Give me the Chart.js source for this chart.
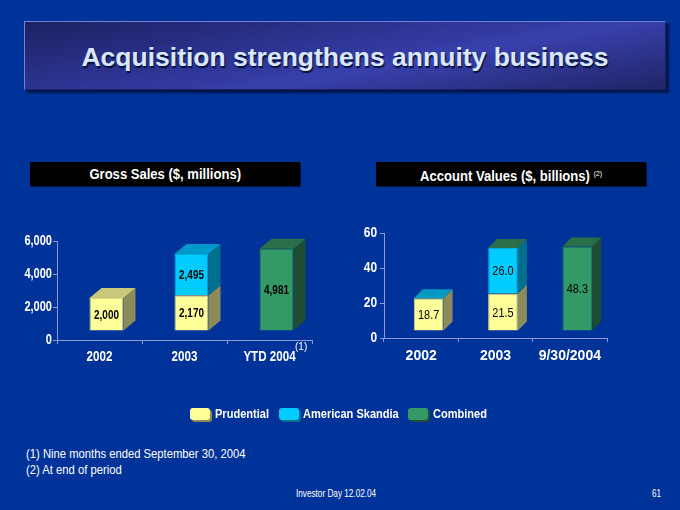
<!DOCTYPE html>
<html>
<head>
<meta charset="utf-8">
<script src="https://cdn.jsdelivr.net/npm/chart.js@4.4.1/dist/chart.umd.min.js"></script>
<style>
  html, body { margin: 0; padding: 0; }
  body {
    width: 680px; height: 510px; position: relative; overflow: hidden;
    background: #003399; color: #fff;
    font-family: "Liberation Sans", Arial, sans-serif;
  }
  .sq { display: inline-block; transform-origin: left center; white-space: nowrap; }
  #title {
    position: absolute; left: 24px; top: 21px; width: 640px; height: 67px;
    border: 1px solid #6f80d6; border-right-color: #1c2260; border-bottom-color: #1c2260;
    background: linear-gradient(170deg, #1c2262 0%, #2f379a 45%, #3840ac 60%, #1f2566 100%);
    box-shadow: 3px 3px 2px rgba(0,0,30,0.6);
    text-align: center; line-height: 70px;
    font-size: 26.5px; font-weight: bold; color: #d9e8ff;
    text-shadow: 1px 2px 1px #0a0f3a;
  }
  .hdr {
    position: absolute; top: 162px; height: 24px; line-height: 24px;
    background: #000; text-align: center;
    font-size: 14.5px; font-weight: bold; color: #fff;
    box-shadow: 1px 1px 1px rgba(0,0,0,0.5);
  }
  .hdr .sq { transform: scaleX(0.9); transform-origin: center center; }
  .hdr sup { font-size: 8px; vertical-align: 5px; font-weight: normal; }
  #hdrL { left: 30px; width: 270px; }
  #hdrR { left: 376px; width: 270px; }
  #wrapL { position: absolute; left: 0; top: 220px; width: 340px; height: 160px; }
  #wrapR { position: absolute; left: 340px; top: 210px; width: 340px; height: 170px; }
  #note1 { position: absolute; left: 295px; top: 341px; font-size: 10px; }
  #legend { position: absolute; top: 406px; left: 190px; height: 16px; font-size: 12px; font-weight: bold; }
  #legend span.item { position: absolute; top: 0; white-space: nowrap; line-height: 16px; }
  #legend span.item span { display: inline-block; transform: scaleX(0.92); transform-origin: left center; }
  #legend i {
    position: absolute; top: 2px; width: 20px; height: 12px; border-radius: 3px;
  }
  .foot { position: absolute; font-size: 12.5px; }
  .foot .sq { transform: scaleX(0.9); }
  .small { position: absolute; top: 487px; font-size: 10.5px; }
  .small .sq { transform: scaleX(0.78); }
</style>
</head>
<body>
<div id="title">Acquisition strengthens annuity business</div>
<div class="hdr" id="hdrL"><span class="sq">Gross Sales ($, millions)</span></div>
<div class="hdr" id="hdrR"><span class="sq">Account Values ($, billions) <sup>(2)</sup></span></div>

<div id="wrapL"><canvas id="salesChart"></canvas></div>
<div id="wrapR"><canvas id="valuesChart"></canvas></div>
<span id="note1">(1)</span>

<div id="legend">
  <span class="item" style="left:0"><i style="left:0;background:#ffff99;box-shadow:2px 2px 0 #8c8c5a"></i><span style="margin-left:25px">Prudential</span></span>
  <span class="item" style="left:89px"><i style="left:0;background:#00ccff;box-shadow:2px 2px 0 #00708c"></i><span style="margin-left:24px">American Skandia</span></span>
  <span class="item" style="left:218px"><i style="left:0;background:#339966;box-shadow:2px 2px 0 #1e4d33"></i><span style="margin-left:25px">Combined</span></span>
</div>

<div class="foot" style="left:26px;top:447px"><span class="sq">(1) Nine months ended September 30, 2004</span></div>
<div class="foot" style="left:26px;top:463px"><span class="sq">(2) At end of period</span></div>
<div class="small" style="left:296px"><span class="sq">Investor Day 12.02.04</span></div>
<div class="small" style="left:652px"><span class="sq">61</span></div>

<script>
// ---- data ----
const salesCategories = ['2002', '2003', 'YTD 2004'];
const salesPrudential = [2000, 2170, null];
const salesSkandia    = [null, 2495, null];
const salesCombined   = [null, null, 4981];
const salesTicks      = [0, 2000, 4000, 6000];

const valueCategories = ['2002', '2003', '9/30/2004'];
const valuePrudential = [18.7, 21.5, null];
const valueSkandia    = [null, 26.0, null];
const valueCombined   = [null, null, 48.3];
const valueTicks      = [0, 20, 40, 60];

const FONT = '"Liberation Sans", Arial, sans-serif';
const AXIS = '#8a9bd4';

// text squeezed horizontally, the slide used a narrow face
function drawSqueezed(ctx, text, x, y, sx, align) {
  ctx.save();
  ctx.translate(x, y);
  ctx.scale(sx, 1);
  ctx.textAlign = align;
  ctx.fillText(text, 0, 0);
  ctx.restore();
}

// draws the fake 3d side/top faces and the value labels
const cube3d = {
  id: 'cube3d',
  beforeDatasetsDraw(chart, args, opts) {
    chart.ctx.save();
    chart.ctx.translate(opts.shiftX, opts.shiftY);
  },
  afterDatasetsDraw(chart, args, opts) {
    const ctx = chart.ctx;
    const dx = opts.depthX, dy = opts.depthY;
    chart.data.datasets.forEach((ds, di) => {
      const meta = chart.getDatasetMeta(di);
      meta.data.forEach((bar, i) => {
        if (ds.data[i] == null) return;
        const p = bar.getProps(['x', 'y', 'base', 'width'], true);
        const l = p.x - p.width / 2, r = p.x + p.width / 2;
        // right face
        ctx.fillStyle = ds.sideColor;
        ctx.beginPath();
        ctx.moveTo(r, p.y);
        ctx.lineTo(r + dx, p.y - dy);
        ctx.lineTo(r + dx, p.base - dy);
        ctx.lineTo(r, p.base);
        ctx.closePath();
        ctx.fill();
        // top face only on the top of the stack
        const above = chart.data.datasets.slice(di + 1).some(d => d.data[i] != null);
        if (!above) {
          ctx.fillStyle = opts.topColors[i];
          ctx.beginPath();
          ctx.moveTo(l, p.y);
          ctx.lineTo(l + dx, p.y - dy);
          ctx.lineTo(r + dx, p.y - dy);
          ctx.lineTo(r, p.y);
          ctx.closePath();
          ctx.fill();
        }
      });
    });
    // value labels
    ctx.fillStyle = '#000';
    ctx.font = opts.labelFont;
    ctx.textBaseline = 'middle';
    chart.data.datasets.forEach((ds, di) => {
      chart.getDatasetMeta(di).data.forEach((bar, i) => {
        const v = ds.data[i];
        if (v == null) return;
        const p = bar.getProps(['x', 'y', 'base'], true);
        drawSqueezed(ctx, opts.format(v), p.x, (p.y + p.base) / 2 + 1, opts.labelScaleX, 'center');
      });
    });
    ctx.restore();
  }
};

// tick labels, placed from the chart's own scales
const squeezedTicks = {
  id: 'squeezedTicks',
  afterDraw(chart, args, o) {
    const ctx = chart.ctx, xs = chart.scales.x, ys = chart.scales.y;
    ctx.save();
    ctx.fillStyle = '#fff';
    ctx.textBaseline = 'middle';
    ctx.font = o.yFont;
    ys.ticks.forEach(t => {
      drawSqueezed(ctx, t.value.toLocaleString('en-US'), ys.right - o.yGap, ys.getPixelForValue(t.value), o.yScaleX, 'right');
    });
    ctx.font = o.xFont;
    chart.data.labels.forEach((lab, i) => {
      drawSqueezed(ctx, lab, xs.getPixelForValue(i), xs.top + o.xGap, o.xScaleX, 'center');
    });
    ctx.restore();
  }
};

function makeChart(id, labels, prud, skan, comb, ticks, cfg) {
  return new Chart(document.getElementById(id), {
    type: 'bar',
    data: {
      labels: labels,
      datasets: [
        { label: 'Prudential', data: prud, backgroundColor: '#ffff99', borderColor: '#d6d67c', borderWidth: 1, sideColor: '#8c8c5a' },
        { label: 'American Skandia', data: skan, backgroundColor: '#00ccff', borderColor: '#00a8d4', borderWidth: 1, sideColor: '#00708c' },
        { label: 'Combined', data: comb, backgroundColor: '#339966', borderColor: '#2a7f55', borderWidth: 1, sideColor: '#1e4d33' }
      ]
    },
    options: {
      responsive: true,
      maintainAspectRatio: false,
      animation: false,
      barPercentage: 0.4,
      categoryPercentage: 1,
      layout: { padding: cfg.padding },
      plugins: {
        legend: { display: false },
        tooltip: { enabled: false },
        cube3d: {
          shiftX: cfg.shiftX, shiftY: cfg.shiftY,
          depthX: cfg.depthX, depthY: cfg.depthY,
          topColors: cfg.topColors,
          labelFont: cfg.labelFont,
          labelScaleX: cfg.labelScaleX,
          format: cfg.format
        },
        squeezedTicks: cfg.ticks
      },
      scales: {
        x: {
          stacked: true,
          border: { color: AXIS, width: 1 },
          grid: { offset: true, drawOnChartArea: false, tickLength: 4, color: AXIS },
          ticks: { display: false },
          afterFit(scale) { scale.height = cfg.xHeight; }
        },
        y: {
          stacked: true,
          min: ticks[0],
          max: ticks[ticks.length - 1],
          afterBuildTicks(scale) { scale.ticks = ticks.map(v => ({ value: v })); },
          border: { color: AXIS, width: 1 },
          grid: { drawOnChartArea: false, tickLength: 4, color: AXIS },
          ticks: { display: false },
          afterFit(scale) { scale.width = cfg.yWidth; }
        }
      }
    },
    plugins: [cube3d, squeezedTicks]
  });
}

makeChart('salesChart', salesCategories, salesPrudential, salesSkandia, salesCombined, salesTicks, {
  padding: { left: 0, top: 21, right: 28, bottom: 0 },
  yWidth: 57, xHeight: 40,
  ticks: { yFont: 'bold 14.5px ' + FONT, yScaleX: 0.76, yGap: 5, xFont: 'bold 14.5px ' + FONT, xScaleX: 0.8, xGap: 17 },
  shiftX: 7, shiftY: -9, depthX: 12, depthY: 10,
  topColors: ['#c8c87a', '#0099cc', '#2b6e4a'],
  labelFont: 'bold 12px ' + FONT,
  labelScaleX: 0.83,
  format: v => v.toLocaleString('en-US')
});

makeChart('valuesChart', valueCategories, valuePrudential, valueSkandia, valueCombined, valueTicks, {
  padding: { left: 0, top: 23, right: 73, bottom: 0 },
  yWidth: 44, xHeight: 42,
  ticks: { yFont: 'bold 14.5px ' + FONT, yScaleX: 0.82, yGap: 7, xFont: 'bold 14px ' + FONT, xScaleX: 1, xGap: 18.5 },
  shiftX: 7.5, shiftY: -7, depthX: 9, depthY: 9,
  topColors: ['#0099c0', '#2b6e4a', '#2b6e4a'],
  labelFont: '13px ' + FONT,
  labelScaleX: 0.84,
  format: v => v.toFixed(1)
});
</script>
</body>
</html>
